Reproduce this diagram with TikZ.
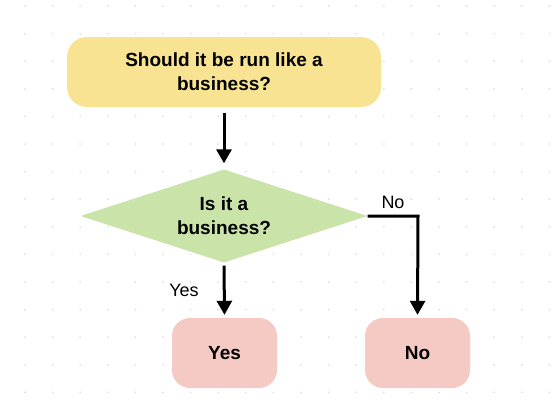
\documentclass[tikz,border=0pt]{standalone}
\usepackage{fontspec}
\setmainfont{Liberation Sans}
\usetikzlibrary{shapes.geometric,arrows.meta}
\definecolor{boxyellow}{HTML}{F7E392}
\definecolor{diagreen}{HTML}{C9E3A9}
\definecolor{boxpink}{HTML}{F6CAC4}
\definecolor{griddot}{HTML}{DEE0E4}
\tikzset{
  txt/.style={font=\fontsize{19}{24}\selectfont\bfseries, text=black, align=center},
  qbox/.style={txt, draw=none, fill=boxyellow, rounded corners=20pt, minimum width=314pt, minimum height=70pt, inner sep=0pt},
  dec/.style={txt, diamond, aspect=3.09, draw=none, fill=diagreen, minimum width=287pt, minimum height=93pt, inner sep=0pt},
  ansbox/.style={txt, draw=none, fill=boxpink, rounded corners=18pt, minimum width=105pt, minimum height=70pt, inner sep=0pt},
  arr/.style={line width=3pt, -{Triangle[width=15pt,length=14pt]}},
  lbl/.style={font=\fontsize{18}{22}\selectfont, text=black, inner sep=0pt}
}
\begin{document}
\begin{tikzpicture}[x=1pt,y=-1pt]
\useasboundingbox[fill=white] (0,0) rectangle (554,415);
\foreach \i in {0,...,19} {
  \foreach \j in {0,...,14} {
    \fill[griddot] (25+27.6*\i, 6+27.6*\j) circle (1pt);
  }
}
\node[qbox] (top) at (224,72) {Should it be run like a\\business?};
\node[dec] (dia) at (224,216) {Is it a\\business?};
\node[ansbox] (yes) at (224.5,353) {Yes};
\node[ansbox] (no) at (417.5,353) {No};
\coordinate (corner) at (418,216);
\draw[arr, shorten <=6pt, shorten >=6pt] (top) -- (dia);
\draw[arr, shorten <=3pt, shorten >=3pt] (dia.south) -- (yes.north);
\draw[arr, shorten >=3pt] (dia.east) -- (corner) -- (no.north);
\node[lbl] (nolbl) at (393,202) {No};
\node[lbl] (yeslbl) at (184,290) {Yes};
\end{tikzpicture}
\end{document}
